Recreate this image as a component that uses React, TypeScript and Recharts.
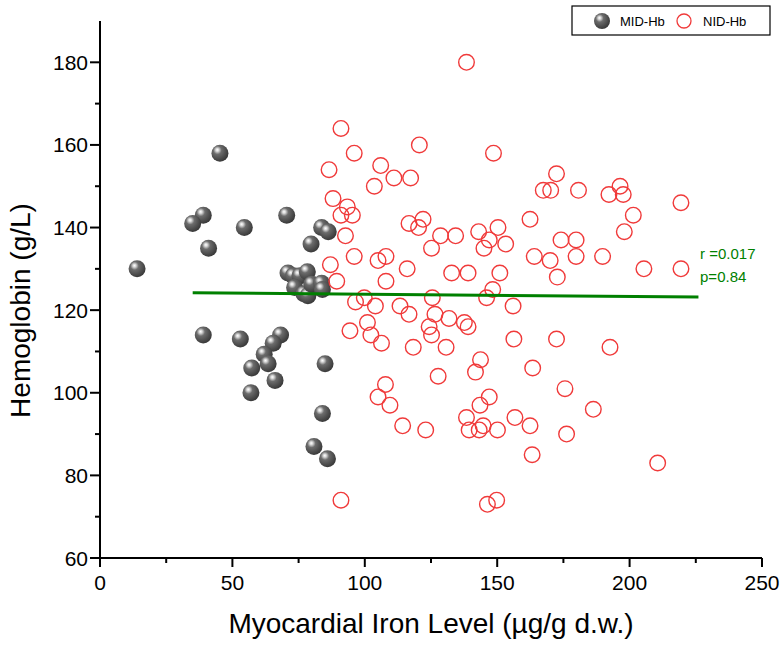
import React from 'react';
import { ScatterChart, Scatter, XAxis, YAxis, ReferenceDot, Legend } from 'recharts';

// ---- data ----
const midX = [14, 45.3, 39, 35, 54.5, 70.5, 41, 83.7, 86.2, 79.7,
  71, 73, 75.5, 78.3, 73.5, 77, 78.5, 80, 83.7, 84,
  39, 53, 68.2, 65.4, 62, 63.5, 57.3, 66.1, 57, 85, 84, 80.8, 85.9];
const midY = [130, 158, 143, 141, 140, 143, 135, 140, 139, 136,
  129, 128.3, 128.3, 129.3, 125.5, 124, 123.5, 126.3, 126.5, 125,
  114, 113, 114, 112, 109.3, 107, 106, 103, 100, 107, 95, 87, 84];

const nidX = [138.4, 91, 96, 120.6, 148.6, 86.5, 106, 103.6, 111, 117.3,
  88, 93.4, 91, 95.3, 92.7, 116.7, 122, 120.3, 128.6, 134.3,
  125.2, 143, 150.3, 147, 145, 153.2, 96, 87, 105, 108,
  116, 132.8, 139, 151, 89.4, 108,
  96.5, 99.8, 104, 113.3, 116.7, 125.5, 126.5, 131.8, 124.3, 125.2,
  137.6, 139, 146, 148.3, 156, 101, 94.4, 102.3, 106.3, 118.3,
  130.7, 156.3, 143.7, 141.8, 127.7, 107.8, 105, 109.5, 147, 143.5,
  138.4, 156.7, 114.3, 123, 139.4, 143.2, 144.7, 150.1, 91, 146.3, 149.8,
  172.4, 167.4, 170.2, 180.7, 192.2, 196.4, 197.6, 219.4, 201.4, 198,
  162.4, 174.1, 179.8, 164, 170, 179.8, 189.8, 172.7, 205.4, 219.4,
  172.4, 192.6, 163.4, 175.6, 186.3, 162.4, 176.2, 163.2, 210.6];
const nidY = [180, 164, 158, 160, 158, 154, 155, 150, 152, 152,
  147, 145, 143, 143, 138, 141, 142, 140, 138, 138,
  135, 139, 140, 137, 135, 136, 133, 131, 132, 133,
  130, 129, 129, 129, 127, 127,
  122, 123, 121, 121, 119, 123, 119, 118, 116, 114,
  117, 116, 123, 125, 121, 117, 115, 114, 112, 111,
  111, 113, 108, 105, 104, 102, 99, 97, 99, 97,
  94, 94, 92, 91, 91, 91, 92, 91, 74, 73, 74,
  153, 149, 149, 149, 148, 150, 148, 146, 143, 139,
  142, 137, 137, 133, 132, 133, 133, 128, 130, 130,
  113, 111, 106, 101, 96, 92, 90, 85, 83];

const fitX = [35, 226];
const fitY = [124.2, 123.2];

const xTicks = [0, 25, 50, 75, 100, 125, 150, 175, 200, 225, 250];
const xMajor = [0, 50, 100, 150, 200, 250];
const yTicks = [60, 70, 80, 90, 100, 110, 120, 130, 140, 150, 160, 170, 180];
const yMajor = [60, 80, 100, 120, 140, 160, 180];

const seriesNames = ['MID-Hb', 'NID-Hb'];
const statsText = ['r =0.017', 'p=0.84'];
const statX = 226.6;
const statY = [133.8, 128.2];

const xTitle = 'Myocardial Iron Level (µg/g d.w.)';
const yTitle = 'Hemoglobin (g/L)';

// ---- build ----
const midData = midX.map((x, i) => ({ x, y: midY[i] }));
const nidData = nidX.map((x, i) => ({ x, y: nidY[i] }));
const fitData = fitX.map((x, i) => ({ x, y: fitY[i] }));

const FONT = '"Liberation Sans", Arial, Helvetica, sans-serif';
const TICK_SIZE = 10;
const TICK_MARGIN = 0;
const RED = '#f03a3a';
const GREEN = '#008000';
const TITLE_SIZE = 28;
const TICK_FONT = 21;

const SphereGrad = ({ id }: { id: string }) => (
  <radialGradient id={id} cx="38%" cy="36%" r="64%" fx="34%" fy="30%">
    <stop offset="0%" stopColor="#ffffff" />
    <stop offset="14%" stopColor="#d9d9d9" />
    <stop offset="38%" stopColor="#6c6c6c" />
    <stop offset="75%" stopColor="#4e4e4e" />
    <stop offset="100%" stopColor="#3a3a3a" />
  </radialGradient>
);

const Sphere = (p: any) => (
  <circle cx={p.cx} cy={p.cy} r={8.5} fill="url(#sphereGrad)" />
);
const OpenCircle = (p: any) => (
  <circle cx={p.cx} cy={p.cy} r={7.8} fill="none" stroke={RED} strokeWidth={1.4} />
);
const NoShape = () => null;

const YTick = (props: any) => {
  const { x, y, payload } = props;
  const ax = x + TICK_SIZE + TICK_MARGIN;
  const major = yMajor.includes(payload.value);
  return (
    <g>
      <line x1={ax} x2={ax - (major ? 10 : 5)} y1={y} y2={y} stroke="#000" strokeWidth={2} />
      {major && (
        <text x={ax - 12} y={y + 7.5} textAnchor="end" fontSize={TICK_FONT} fontFamily={FONT} fill="#000">
          {payload.value}
        </text>
      )}
    </g>
  );
};

const XTick = (props: any) => {
  const { x, y, payload } = props;
  const ay = y - TICK_SIZE - TICK_MARGIN;
  const major = xMajor.includes(payload.value);
  return (
    <g>
      <line x1={x} x2={x} y1={ay} y2={ay + (major ? 9 : 5)} stroke="#000" strokeWidth={2} />
      {major && (
        <text x={x} y={ay + 32} textAnchor="middle" fontSize={TICK_FONT} fontFamily={FONT} fill="#000">
          {payload.value}
        </text>
      )}
    </g>
  );
};

const YTitle = (p: any) => {
  const vb = p.viewBox;
  const cx = vb.x + 30;
  const cy = vb.y + vb.height / 2 + 21;
  return (
    <text
      x={cx}
      y={cy}
      transform={`rotate(-90, ${cx}, ${cy})`}
      textAnchor="middle"
      fontSize={TITLE_SIZE}
      fontFamily={FONT}
      fill="#000"
    >
      {yTitle}
    </text>
  );
};

const LegendBox = () => (
  <svg width={202} height={33}>
    <defs>
      <SphereGrad id="sphereGradL" />
    </defs>
    <rect x={1} y={1} width={198} height={29} fill="#fff" stroke="#000" strokeWidth={1.2} />
    <circle cx={31} cy={16} r={8} fill="url(#sphereGradL)" />
    <text x={49} y={21} fontSize={13} fontFamily={FONT} fill="#000">{seriesNames[0]}</text>
    <circle cx={113} cy={16} r={7} fill="none" stroke={RED} strokeWidth={1.3} />
    <text x={132} y={21} fontSize={13} fontFamily={FONT} fill="#000">{seriesNames[1]}</text>
  </svg>
);

const statLabel = (i: number) => (p: any) => (
  <text x={p.viewBox.x} y={p.viewBox.y} dy={5.5} fill={GREEN} fontSize={15} fontFamily={FONT}>
    {statsText[i]}
  </text>
);

export default function App() {
  return (
    <div style={{ position: 'absolute', left: 0, top: 0, background: '#fff' }}>
      <ScatterChart width={784} height={646} margin={{ top: 21, right: 22, bottom: 0, left: 0 }}>
        <defs>
          <SphereGrad id="sphereGrad" />
        </defs>
        <XAxis
          type="number"
          dataKey="x"
          domain={[0, 250]}
          ticks={xTicks}
          interval={0}
          height={88}
          tickSize={TICK_SIZE}
          tickMargin={TICK_MARGIN}
          tickLine={false}
          axisLine={{ stroke: '#000', strokeWidth: 2 }}
          tick={<XTick />}
          label={{
            value: xTitle,
            position: 'insideBottom',
            offset: 13,
            style: { fontSize: TITLE_SIZE, fontFamily: FONT, fill: '#000' },
          }}
        />
        <YAxis
          type="number"
          dataKey="y"
          domain={[60, 190]}
          ticks={yTicks}
          interval={0}
          width={100}
          tickSize={TICK_SIZE}
          tickMargin={TICK_MARGIN}
          tickLine={false}
          axisLine={{ stroke: '#000', strokeWidth: 2 }}
          tick={<YTick />}
          label={{ value: yTitle, content: YTitle }}
        />
        <Legend
          layout="horizontal"
          verticalAlign="middle"
          align="center"
          wrapperStyle={{ position: 'absolute', top: 5, left: 571, width: 202, height: 33 }}
          content={<LegendBox />}
        />
        <Scatter name={seriesNames[0]} data={midData} shape={Sphere} isAnimationActive={false} />
        <Scatter name={seriesNames[1]} data={nidData} shape={OpenCircle} isAnimationActive={false} />
        <Scatter
          name="fit"
          data={fitData}
          line={{ stroke: GREEN, strokeWidth: 3 }}
          shape={NoShape}
          legendType="none"
          isAnimationActive={false}
        />
        <ReferenceDot x={statX} y={statY[0]} r={0} ifOverflow="visible" label={statLabel(0)} />
        <ReferenceDot x={statX} y={statY[1]} r={0} ifOverflow="visible" label={statLabel(1)} />
      </ScatterChart>
    </div>
  );
}
